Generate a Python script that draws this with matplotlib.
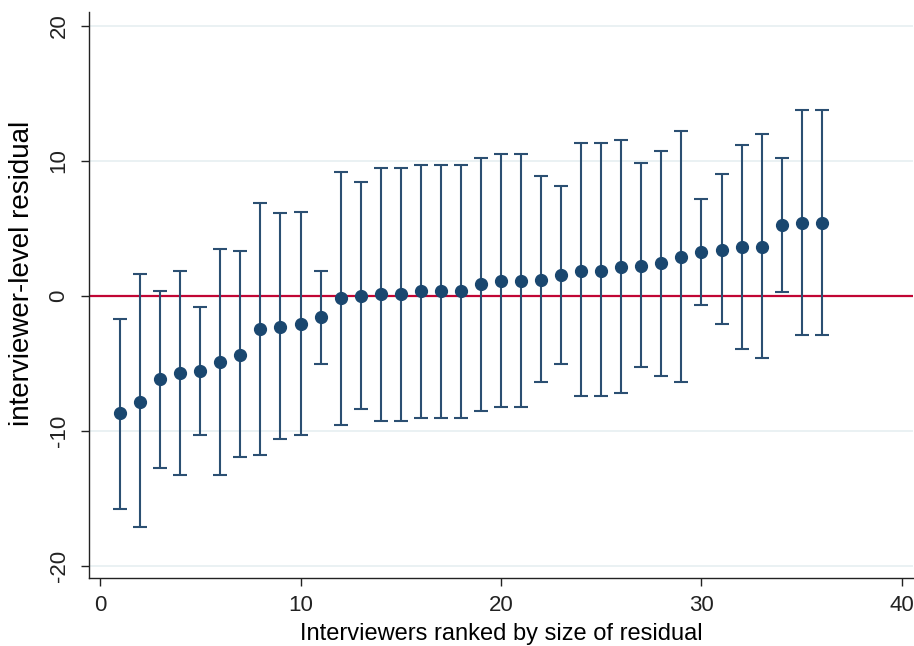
import matplotlib
matplotlib.use("Agg")
import matplotlib.pyplot as plt
import numpy as np

plt.rcParams['font.family'] = ['Liberation Sans', 'DejaVu Sans']
plt.rcParams['axes.unicode_minus'] = False

rank = np.arange(1, 37)
resid = [-8.69, -7.83, -6.12, -5.68, -5.56, -4.91, -4.37, -2.44, -2.27, -2.07,
         -1.58, -0.12, 0.0, 0.12, 0.12, 0.37, 0.37, 0.40, 0.86, 1.11,
         1.11, 1.21, 1.58, 1.88, 1.88, 2.12, 2.25, 2.42, 2.91, 3.28,
         3.43, 3.60, 3.60, 5.26, 5.43, 5.43]
upper = [-1.73, 1.63, 0.40, 1.88, -0.79, 3.46, 3.33, 6.89, 6.10, 6.22,
         1.88, 9.19, 8.40, 9.43, 9.43, 9.68, 9.68, 9.70, 10.22, 10.49,
         10.49, 8.89, 8.10, 11.28, 11.28, 11.56, 9.83, 10.74, 12.20, 7.16,
         9.01, 11.16, 11.95, 10.20, 13.78, 13.78]
lower = [-15.75, -17.09, -12.72, -13.26, -10.32, -13.26, -11.93, -11.78, -10.59, -10.32,
         -5.04, -9.51, -8.35, -9.28, -9.28, -9.01, -9.01, -8.99, -8.49, -8.20,
         -8.20, -6.37, -5.04, -7.41, -7.41, -7.16, -5.28, -5.95, -6.35, -0.64,
         -2.10, -3.95, -4.62, 0.27, -2.91, -2.91]

resid = np.array(resid)
yerr = [resid - np.array(lower), np.array(upper) - resid]

navy = '#1a476f'

fig = plt.figure(figsize=(9.14, 6.46), dpi=100)
ax = fig.add_axes([89 / 914, 1 - 578 / 646, (913 - 89) / 914, (578 - 12) / 646])

for g in [-20, -10, 10, 20]:
    ax.axhline(g, color='#e6eff1', lw=1.2, zorder=0)
ax.axhline(0, color='#c10534', lw=1.6, zorder=1)

ax.errorbar(rank, resid, yerr=yerr, fmt='none', ecolor='#2b4f72',
            elinewidth=1.5, capsize=5, capthick=1.5, zorder=2)
ax.plot(rank, resid, 'o', color=navy, ms=8.5, zorder=3)

ax.set_xlim(-0.55, 40.55)
ax.set_ylim(-20.86, 21.0)
ax.set_xticks([0, 10, 20, 30, 40])
ax.set_yticks([-20, -10, 0, 10, 20])

for s in ['top', 'right']:
    ax.spines[s].set_visible(False)
for s in ['left', 'bottom']:
    ax.spines[s].set_linewidth(1.0)
    ax.spines[s].set_color('#222222')

ax.tick_params(direction='out', length=6, width=1, colors='#222222')
ax.tick_params(axis='x', labelsize=16, pad=6)
ax.tick_params(axis='y', labelsize=16, pad=8)
plt.setp(ax.get_yticklabels(), rotation=90, va='center')

ax.set_xlabel('Interviewers ranked by size of residual', fontsize=17, labelpad=5)
ax.set_ylabel('interviewer-level residual', fontsize=20)
ax.yaxis.set_label_coords(-0.066, 0.539)

fig.savefig('out.png', dpi=100)
